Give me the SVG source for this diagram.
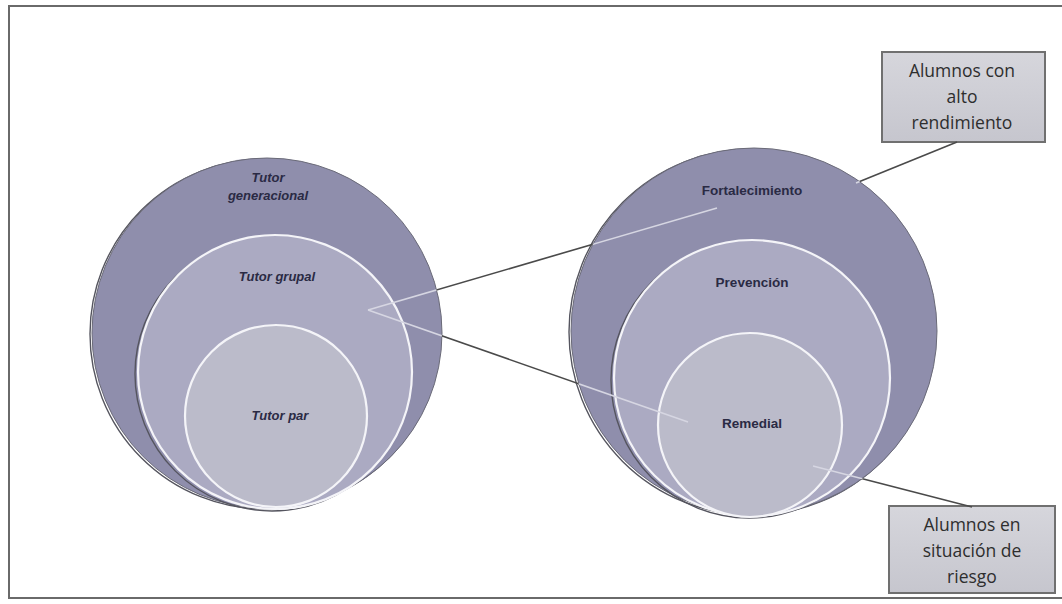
<svg xmlns="http://www.w3.org/2000/svg" width="1062" height="604" viewBox="0 0 1062 604">
<style>
  .frame{fill:#ffffff;stroke:#6a6a6a;stroke-width:2}
  .c1{fill:#8f8eac;stroke:#6a6a78;stroke-width:1}
  .c2{fill:#abaac2;stroke:#f4f4f8;stroke-width:2.2}
  .c3{fill:#bbbbca;stroke:#f4f4f8;stroke-width:2.2}
  .sh{fill:none;stroke:#55555f;stroke-width:1.4}
  .lbl{font-family:"Liberation Sans",Arial,sans-serif;font-weight:bold;font-size:13.5px;fill:#2a2a44;text-anchor:middle}
  .it{font-style:italic;font-size:13px}
  .box{fill:url(#boxg);stroke:#707070;stroke-width:2}
  .btxt{font-family:"Open Sans","Noto Sans",sans-serif;font-size:17.5px;fill:#2e2e2e;text-anchor:middle}
  .dark{stroke:#4a4a4a;stroke-width:1.6;fill:none}
  .light{stroke:#d6d6e2;stroke-width:1.6;fill:none}
</style>
<defs>
  <linearGradient id="boxg" x1="0" y1="0" x2="0" y2="1">
    <stop offset="0" stop-color="#d6d6dc"/>
    <stop offset="1" stop-color="#c6c6ce"/>
  </linearGradient>
  <clipPath id="inC">
    <circle cx="267" cy="333" r="175"/>
    <circle cx="754" cy="331" r="183"/>
  </clipPath>
  <mask id="outC">
    <rect x="0" y="0" width="1062" height="604" fill="#fff"/>
    <circle cx="267" cy="333" r="175" fill="#000"/>
    <circle cx="754" cy="331" r="183" fill="#000"/>
  </mask>
</defs>
<rect class="frame" x="9" y="6" width="1060" height="592"/>

<g id="left-generacional">
  <circle class="sh" cx="265" cy="334" r="175"/>
  <circle class="c1" cx="267" cy="333" r="175"/>
  <text class="lbl it" x="268" y="182">Tutor</text>
  <text class="lbl it" x="268" y="200">generacional</text>
</g>
<g id="left-grupal">
  <circle class="sh" cx="272" cy="374" r="137"/>
  <circle class="c2" cx="275" cy="372" r="137"/>
  <text class="lbl it" x="277" y="281">Tutor grupal</text>
</g>
<g id="left-par">
  <circle class="c3" cx="276" cy="416" r="91"/>
  <text class="lbl it" x="280" y="420">Tutor par</text>
</g>

<g id="right-fortalecimiento">
  <circle class="sh" cx="752" cy="332" r="183"/>
  <circle class="c1" cx="754" cy="331" r="183"/>
  <text class="lbl" x="752" y="195">Fortalecimiento</text>
</g>
<g id="right-prevencion">
  <circle class="sh" cx="749" cy="380" r="138"/>
  <circle class="c2" cx="752" cy="378" r="138"/>
  <text class="lbl" x="752" y="287">Prevención</text>
</g>
<g id="right-remedial">
  <circle class="c3" cx="750" cy="425" r="92"/>
  <text class="lbl" x="752" y="428">Remedial</text>
</g>

<g id="box-alto">
  <rect class="box" x="882" y="52" width="163" height="90"/>
  <text class="btxt" x="962" y="77">Alumnos con</text>
  <text class="btxt" x="962" y="103">alto</text>
  <text class="btxt" x="962" y="129">rendimiento</text>
</g>
<g id="box-riesgo">
  <rect class="box" x="889" y="506" width="166" height="87"/>
  <text class="btxt" x="972" y="531">Alumnos en</text>
  <text class="btxt" x="972" y="557">situación de</text>
  <text class="btxt" x="972" y="583">riesgo</text>
</g>

<g id="connectors">
  <g mask="url(#outC)">
    <line class="dark" x1="368" y1="310" x2="717" y2="208"/>
    <line class="dark" x1="368" y1="310" x2="688" y2="422"/>
    <line class="dark" x1="856" y1="183" x2="957" y2="142"/>
    <line class="dark" x1="813" y1="466" x2="972" y2="507"/>
  </g>
  <g clip-path="url(#inC)">
    <line class="light" x1="368" y1="310" x2="717" y2="208"/>
    <line class="light" x1="368" y1="310" x2="688" y2="422"/>
    <line class="light" x1="856" y1="183" x2="957" y2="142"/>
    <line class="light" x1="813" y1="466" x2="972" y2="507"/>
  </g>
</g>
</svg>
